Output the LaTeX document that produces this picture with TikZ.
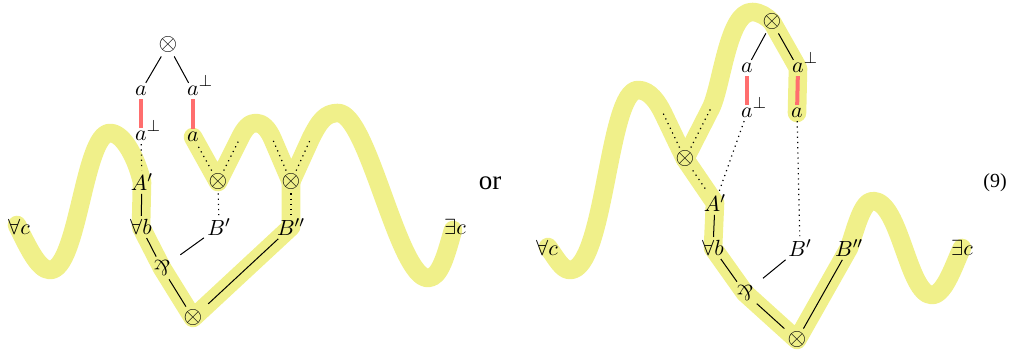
\documentclass[tikz,border=0pt]{standalone}
\usepackage{fontspec}
\usepackage{graphicx}
\newfontfamily\timesf{Liberation Serif}
\definecolor{hlyellow}{RGB}{240,240,138}
\definecolor{redbar}{RGB}{255,110,110}
\newcommand{\myparr}{\mathbin{\rotatebox[origin=c]{180}{$\&$}}}
\newcommand{\aperp}{a\rlap{\smash{\raisebox{0.95ex}{\fontsize{8.5}{9}\selectfont$\perp$}}}}
\newcommand{\tens}{{\fontsize{12.5}{13}\selectfont$\otimes$}}
\usetikzlibrary{backgrounds}
\begin{document}
\begin{tikzpicture}[x=0.5pt,y=-0.5pt,
  lbl/.style={inner sep=1.5pt, font=\fontsize{10.8}{12}\selectfont},
  hl/.style={draw=hlyellow, line width=9.3pt, line cap=round, line join=round},
  ln/.style={line width=0.5pt},
  dt/.style={line width=0.6pt, dotted},
  rb/.style={draw=redbar, line width=2pt}]
\useasboundingbox (0,0) rectangle (1013,352);

% ---------- left diagram ----------
\node[lbl] (Lt) at (168,45) {\tens};
\node[lbl] (La) at (141,91) {$a$};
\node[lbl] (Lap) at (193,91) {$\aperp$};
\node[lbl] (Lb1) at (141,136) {$\aperp$};
\node[lbl] (Lb2) at (193,137) {$a$};
\node[lbl] (LA) at (142,182) {$A'$};
\node[lbl] (Lfb) at (141,227) {$\forall b$};
\node[lbl] (Lfc) at (19,227) {$\forall c$};
\node[lbl] (Lm1) at (218,182) {\tens};
\node[lbl] (Lm2) at (291,182) {\tens};
\node[lbl] (LBp) at (219,227) {$B'$};
\node[lbl] (LBpp) at (291,227) {$B''$};
\node[lbl] (Lpar) at (162,268) {$\myparr$};
\node[lbl] (Lbot) at (193,318) {\tens};
\node[lbl] (Lec) at (455,227) {$\exists c$};
\coordinate (Lu1) at (239,140);
\coordinate (Lu2) at (273,140);
\coordinate (Lu3) at (311,138);

\draw[ln] (Lt) -- (La);
\draw[ln] (Lt) -- (Lap);
\draw[rb] (La) -- (Lb1);
\draw[rb] (Lap) -- (Lb2);
\draw[dt] (Lb1) -- (LA);
\draw[ln] (LA) -- (Lfb);
\draw[ln] (Lfb) -- (Lpar);
\draw[ln] (Lpar) -- (Lbot);
\draw[ln, shorten >=4pt] (LBp) -- (Lpar);
\draw[ln, shorten >=2pt] (LBpp) -- (Lbot);
\draw[dt] (Lm1) -- (Lb2);
\draw[dt] (Lm1) -- (LBp);
\draw[dt] (Lm1) -- (Lu1);
\draw[dt] (Lm2) -- (Lu2);
\draw[dt] (Lm2) -- (Lu3);
\draw[dt] (Lm2) -- (LBpp);

\node (or) at (490,183) {\timesf\fontsize{13.5}{16}\selectfont or};

% ---------- right diagram ----------
\node[lbl] (Rt) at (772,22) {\tens};
\node[lbl] (Ra) at (747,68) {$a$};
\node[lbl] (Rap) at (798,68) {$\aperp$};
\node[lbl] (Rb1) at (747,113) {$\aperp$};
\node[lbl] (Rb2) at (797,113) {$a$};
\node[lbl] (RL) at (685,159) {\tens};
\node[lbl] (RA) at (715,203) {$A'$};
\node[lbl] (Rfb) at (713,248) {$\forall b$};
\node[lbl] (Rfc) at (547,248) {$\forall c$};
\node[lbl] (RBp) at (800,248) {$B'$};
\node[lbl] (RBpp) at (849,248) {$B''$};
\node[lbl] (Rec) at (962,248) {$\exists c$};
\node[lbl] (Rpar) at (745,293) {$\myparr$};
\node[lbl] (Rbot) at (797,340) {\tens};
\coordinate (Ru1) at (663,113);
\coordinate (Ru2) at (711,108);

\draw[ln] (Rt) -- (Ra);
\draw[ln] (Rt) -- (Rap);
\draw[rb] (Ra) -- (Rb1);
\draw[rb] (Rap) -- (Rb2);
\draw[dt] (Rb1) -- (RA);
\draw[dt] (Rb2) -- (RBp);
\draw[dt] (RL) -- (RA);
\draw[dt] (RL) -- (Ru1);
\draw[dt] (RL) -- (Ru2);
\draw[ln] (RA) -- (Rfb);
\draw[ln] (Rfb) -- (Rpar);
\draw[ln] (Rpar) -- (Rbot);
\draw[ln, shorten >=4pt] (RBp) -- (Rpar);
\draw[ln] (RBpp) -- (Rbot);

\node (eq) at (995,183) {\timesf\fontsize{10}{12}\selectfont (9)};

% ---------- highlights ----------
\begin{scope}[on background layer]
\draw[hl] (17,225) .. controls (27,245) and (38,270) .. (50,270)
  .. controls (78,270) and (84,133) .. (110,133)
  .. controls (124,133) and (137,160) .. (LA.center)
  -- (Lfb.center) -- (Lpar.center) -- (Lbot.center) -- (LBpp.center) -- (Lm2.center);
\draw[hl] (Lb2.center) -- (Lm1.center) -- (Lu1)
  .. controls (245,127) and (250,123) .. (256,123)
  .. controls (262,123) and (268,128) .. (Lu2)
  -- (Lm2.center) -- (Lu3)
  .. controls (320,120) and (326,113) .. (338,113)
  .. controls (368,113) and (398,278) .. (428,278)
  .. controls (440,278) and (446,255) .. (453,230);
\draw[hl] (548,247) .. controls (556,258) and (562,270) .. (570,270)
  .. controls (605,270) and (608,90) .. (638,90)
  .. controls (650,90) and (658,103) .. (Ru1)
  -- (RL.center) -- (RA.center) -- (Rfb.center) -- (Rpar.center) -- (Rbot.center) -- (RBpp.center)
  .. controls (856,228) and (862,201) .. (873,201)
  .. controls (900,201) and (908,295) .. (932,295)
  .. controls (945,295) and (955,262) .. (962,248);
\draw[hl] (RL.center) -- (Ru2)
  .. controls (722,85) and (728,12) .. (752,12)
  .. controls (760,12) and (767,17) .. (Rt.center) -- (Rap.center) -- (Rb2.center);
\end{scope}
\end{tikzpicture}
\end{document}
